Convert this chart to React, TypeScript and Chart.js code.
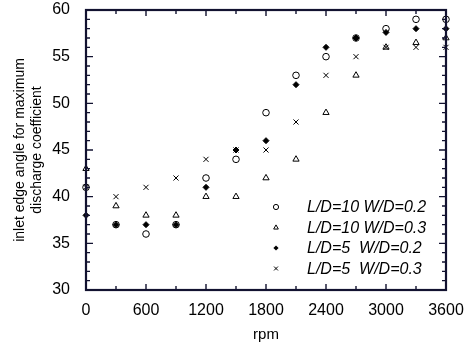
import React, { useEffect, useRef } from 'react';
import { Chart, registerables } from 'chart.js';

Chart.register(...registerables);

// ---- data ----
const rpm = [0, 300, 600, 900, 1200, 1500, 1800, 2100, 2400, 2700, 3000, 3300, 3600];
const ld10wd02 = [41, 37, 36, 37, 42, 44, 49, 53, 55, 57, 58, 59, 59];
const ld10wd03 = [43, 39, 38, 38, 40, 40, 42, 44, 49, 53, 56, 56.5, 57];
const ld5wd02 = [38, 37, 37, 37, 41, 45, 46, 52, 56, 57, 57.6, 58, 58];
const ld5wd03 = [41, 40, 41, 42, 44, 45, 45, 48, 53, 55, 56, 56, 56];
const seriesLabels = ['L/D=10 W/D=0.2', 'L/D=10 W/D=0.3', 'L/D=5  W/D=0.2', 'L/D=5  W/D=0.3'];
const seriesStyles = ['circle', 'triangle', 'rectRot', 'crossRot'];
const xTitle = 'rpm';
const yTitle = ['inlet edge angle for maximum', 'discharge coefficient'];
const xMin = 0, xMax = 3600, xStep = 600, xMinorStep = 300;
const yMin = 30, yMax = 60, yStep = 5, yMinorStep = 1;

const INK = 'black';
const FRAME = 'rgb(18,18,48)';
const FONT = '"Liberation Sans", Arial, sans-serif';

function drawMarker(ctx: CanvasRenderingContext2D, style: string, x: number, y: number, r: number) {
  ctx.save();
  ctx.strokeStyle = INK;
  ctx.fillStyle = INK;
  ctx.lineWidth = 1;
  ctx.beginPath();
  if (style === 'circle') {
    ctx.arc(x, y, r, 0, Math.PI * 2);
    ctx.stroke();
  } else if (style === 'triangle') {
    ctx.moveTo(x, y - r);
    ctx.lineTo(x + r * 0.9, y + r * 0.6);
    ctx.lineTo(x - r * 0.9, y + r * 0.6);
    ctx.closePath();
    ctx.stroke();
  } else if (style === 'rectRot') {
    ctx.moveTo(x, y - r);
    ctx.lineTo(x + r, y);
    ctx.lineTo(x, y + r);
    ctx.lineTo(x - r, y);
    ctx.closePath();
    ctx.fill();
  } else {
    const d = r * 0.75;
    ctx.moveTo(x - d, y - d);
    ctx.lineTo(x + d, y + d);
    ctx.moveTo(x + d, y - d);
    ctx.lineTo(x - d, y + d);
    ctx.stroke();
  }
  ctx.restore();
}

const decorPlugin = {
  id: 'decor',
  afterDraw(chart: any) {
    const ctx = chart.ctx as CanvasRenderingContext2D;
    const a = chart.chartArea;
    const xs = chart.scales.x;
    const ys = chart.scales.y;
    ctx.save();
    ctx.strokeStyle = FRAME;
    ctx.lineWidth = 1.4;
    for (let v = yMin; v <= yMax; v += yMinorStep) {
      const y = ys.getPixelForValue(v);
      const len = v % yStep === 0 ? 7 : 4;
      ctx.beginPath();
      ctx.moveTo(a.left, y);
      ctx.lineTo(a.left + len, y);
      ctx.moveTo(a.right, y);
      ctx.lineTo(a.right - len, y);
      ctx.stroke();
    }
    for (let v = xMin; v <= xMax; v += xMinorStep) {
      const x = xs.getPixelForValue(v);
      const len = v % xStep === 0 ? 6 : 4;
      ctx.beginPath();
      ctx.moveTo(x, a.bottom);
      ctx.lineTo(x, a.bottom - len);
      ctx.moveTo(x, a.top);
      ctx.lineTo(x, a.top + len);
      ctx.stroke();
    }
    ctx.lineWidth = 2.2;
    ctx.strokeRect(a.left, a.top, a.right - a.left, a.bottom - a.top);
    ctx.restore();

    const markerX = a.right - 170;
    const textX = a.right - 139;
    const y0 = a.bottom - 83;
    ctx.save();
    ctx.font = 'italic 16px ' + FONT;
    ctx.fillStyle = INK;
    ctx.textBaseline = 'middle';
    ctx.textAlign = 'left';
    chart.data.datasets.forEach((ds: any, i: number) => {
      const y = y0 + i * 20.5;
      drawMarker(ctx, ds.pointStyle, markerX, y, 2.6);
      ctx.fillText(ds.label, textX, y + 1);
    });
    ctx.restore();
  },
};

export default function App() {
  const ref = useRef<HTMLCanvasElement | null>(null);

  useEffect(() => {
    document.body.style.margin = '0';
    const canvas = ref.current;
    if (!canvas) return;
    const series = [ld10wd02, ld10wd03, ld5wd02, ld5wd03];
    const datasets = series.map((vals, i) => ({
      label: seriesLabels[i],
      data: rpm.map((x, j) => ({ x, y: vals[j] })),
      pointStyle: seriesStyles[i],
      pointRadius: seriesStyles[i] === 'rectRot' ? 3 : seriesStyles[i] === 'circle' ? 3.3 : 3.6,
      pointBorderWidth: 1,
      borderColor: INK,
      backgroundColor: seriesStyles[i] === 'rectRot' ? INK : 'rgba(0,0,0,0)',
      showLine: false,
      clip: false,
    }));
    const tickFont = { family: FONT, size: 16 };
    const chart = new Chart(canvas, {
      type: 'scatter',
      data: { datasets },
      options: {
        animation: false,
        responsive: false,
        devicePixelRatio: 1,
        layout: { padding: { top: 10, right: 21, left: 0, bottom: 0 } },
        plugins: { legend: { display: false }, tooltip: { enabled: false } },
        scales: {
          x: {
            type: 'linear',
            min: xMin,
            max: xMax,
            grid: { display: true, drawOnChartArea: false, drawTicks: false, color: FRAME },
            border: { display: true, color: FRAME, width: 2 },
            ticks: {
              stepSize: xStep,
              color: INK,
              font: tickFont,
              padding: 11,
              maxRotation: 0,
              callback: (v: any) => String(v),
            },
            title: {
              display: true,
              text: xTitle,
              color: INK,
              font: { family: FONT, size: 15 },
              padding: { top: 0, bottom: 5 },
            },
            afterFit: (s: any) => {
              s.height = 59;
              s.paddingLeft = 0;
              s.paddingRight = 0;
            },
          },
          y: {
            type: 'linear',
            min: yMin,
            max: yMax,
            grid: { display: true, drawOnChartArea: false, drawTicks: false, color: FRAME },
            border: { display: true, color: FRAME, width: 2 },
            ticks: { stepSize: yStep, color: INK, font: tickFont, padding: 16 },
            title: {
              display: true,
              text: yTitle,
              color: INK,
              font: { family: FONT, size: 14, lineHeight: 1.2 },
              padding: { top: 12, bottom: 0 },
            },
            afterFit: (s: any) => {
              s.width = 86;
              s.paddingTop = 0;
              s.paddingBottom = 0;
            },
          },
        },
      },
      plugins: [decorPlugin],
    } as any);
    return () => chart.destroy();
  }, []);

  return (
    <div style={{ width: 467, height: 349, background: '#fff' }}>
      <canvas ref={ref} width={467} height={349} style={{ display: 'block' }} />
    </div>
  );
}
